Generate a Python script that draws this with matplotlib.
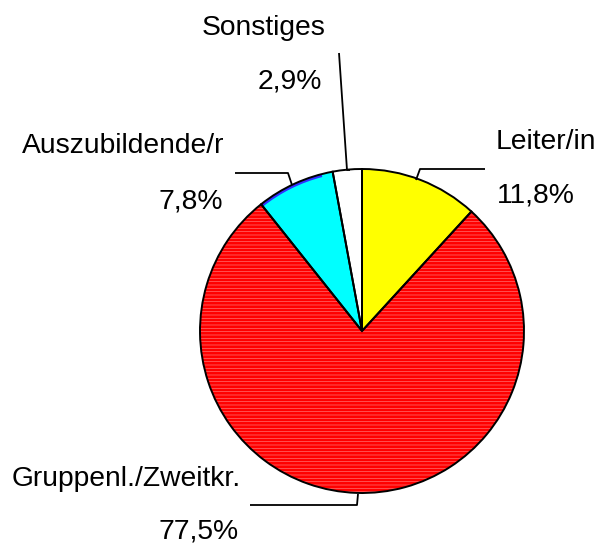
import matplotlib
matplotlib.use("Agg")
import matplotlib.pyplot as plt
from matplotlib.patches import Wedge

categories = ["Leiter/in", "Gruppenl./Zweitkr.", "Auszubildende/r", "Sonstiges"]
values = [11.8, 77.5, 7.8, 2.9]
pct_labels = ["11,8%", "77,5%", "7,8%", "2,9%"]
colors = ["#ffff00", "#ff0000", "#00ffff", "#ffffff"]

plt.rcParams["hatch.linewidth"] = 0.5

W, H = 599, 546
fig = plt.figure(figsize=(W / 100, H / 100), dpi=100)
ax = fig.add_axes([0, 0, 1, 1])

cx, cy, r = 362, H - 331, 162
wedges, _ = ax.pie(values, colors=colors, startangle=90, counterclock=False,
                   center=(cx, cy), radius=r, frame=True,
                   wedgeprops=dict(edgecolor="none", linewidth=0))
ax.set_xlim(0, W)
ax.set_ylim(0, H)
ax.set_aspect("equal")
ax.axis("off")

# subtle striping on the large wedge
w = wedges[1]
ax.add_patch(Wedge(w.center, w.r, w.theta1, w.theta2, facecolor="none",
                   edgecolor="#ff7070", hatch="-----", linewidth=0, zorder=w.get_zorder() + 0.1))
# a bluish rim on the cyan wedge
c = wedges[2]
ax.add_patch(Wedge(c.center, c.r, c.theta1 + 4, c.theta2, width=3, facecolor="#3030ff",
                   edgecolor="none", zorder=c.get_zorder() + 0.1))
# outlines
for wd in wedges:
    ax.add_patch(Wedge(wd.center, wd.r, wd.theta1, wd.theta2, facecolor="none",
                       edgecolor="black", linewidth=1.4, zorder=wd.get_zorder() + 0.2))

font = dict(family="Liberation Sans", fontsize=20.3, color="black")

def T(x, y, s, ha="center"):
    ax.text(x, H - y, s, ha=ha, va="center", **font)

# labels (name, percentage)
T(546, 142, categories[0]); T(536, 196, pct_labels[0])
T(126, 479, categories[1]); T(199, 531, pct_labels[1])
T(123, 146, categories[2]); T(191, 201, pct_labels[2])
T(264, 28, categories[3]);  T(290, 82, pct_labels[3])

def L(pts):
    xs = [p[0] for p in pts]
    ys = [H - p[1] for p in pts]
    ax.plot(xs, ys, color="black", linewidth=1.3, solid_capstyle="butt")

L([(485, 169), (420, 169), (416, 180)])
L([(250, 505), (357, 505), (358, 494)])
L([(235, 173), (288, 173), (292, 185)])
L([(339, 53), (347, 170), (350, 170)])

fig.savefig("out.png", dpi=100)
